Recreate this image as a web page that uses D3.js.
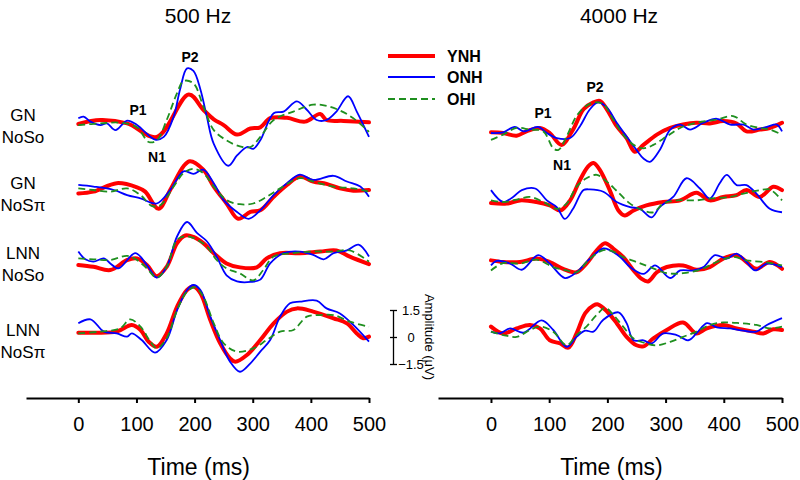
<!DOCTYPE html>
<html><head><meta charset="utf-8">
<script src="https://cdn.jsdelivr.net/npm/d3@7"></script>
<style>
body{margin:0;background:#fff}
svg{display:block}
text{font-family:"Liberation Sans",Arial,Helvetica,sans-serif;fill:#000}
</style>
</head><body>
<svg id="c" width="800" height="480"></svg>
<script>
// ---------- categories / ticks ----------
const panels = ["500 Hz", "4000 Hz"];
const conditions = [["GN","NoSo"],["GN","NoSπ"],["LNN","NoSo"],["LNN","NoSπ"]];
const groups = ["YNH","ONH","OHI"];
const timeTicks = [0,100,200,300,400,500];
const ampTicks = [-1.5,0,1.5];
const peakLabels = ["P1","P2","N1"];

// ---------- series: [time ms, amplitude µV] ----------
// 500 Hz, GN NoSo
const hz500_GN_NoSo_YNH = [[0,-0.11],[38,0.11],[84,-0.08],[135,-0.83],[190,1.53],[215,0.68],[233,0.15],[250,-0.17],[273,-0.70],[296,-0.36],[313,-0.30],[330,0.21],[359,0.23],[390,0.02],[416,0.45],[427,0.11],[456,0.06],[500,-0.02]];
const hz500_GN_NoSo_ONH = [[0,0.21],[9,0.30],[21,0.02],[38,-0.17],[49,-0.08],[64,-0.45],[84,0.08],[101,-0.17],[132,-0.98],[147,-0.83],[164,0.30],[175,1.81],[187,2.98],[198,2.84],[210,1.81],[221,0.30],[233,-1.21],[258,-2.43],[273,-1.86],[290,-1.39],[301,-1.49],[313,-1.02],[336,0.49],[353,0.58],[376,1.15],[393,0.68],[410,0.11],[427,0.11],[444,0.58],[464,1.43],[479,0.58],[500,-0.83]];
const hz500_GN_NoSo_OHI = [[0,-0.17],[38,-0.08],[72,-0.04],[101,-0.30],[121,-1.11],[135,-1.02],[152,0.11],[170,1.62],[181,2.28],[198,2.15],[215,0.87],[233,-0.45],[255,-1.02],[278,-1.36],[296,-1.39],[313,-0.83],[336,0.11],[370,0.58],[404,0.96],[427,0.90],[450,0.64],[473,0.21],[500,-0.55]];
// 500 Hz, GN NoSπ
const hz500_GN_NoSpi_YNH = [[0,-0.19],[26,-0.09],[66,0.38],[101,0.15],[115,-0.09],[138,-1.04],[158,0.00],[181,1.32],[192,1.60],[215,1.13],[233,0.19],[255,-0.75],[275,-1.60],[296,-1.22],[313,-1.13],[336,-0.38],[359,0.28],[381,0.75],[404,0.47],[427,0.34],[450,0.09],[473,-0.04],[500,0.00]];
const hz500_GN_NoSpi_ONH = [[0,0.28],[26,0.19],[61,0.00],[84,-0.28],[107,-0.47],[135,-0.75],[158,0.00],[181,1.04],[198,0.90],[215,1.13],[233,0.38],[250,-0.56],[273,-1.22],[293,-1.60],[313,-1.13],[336,-0.28],[359,0.38],[381,0.85],[404,0.56],[439,0.79],[462,0.47],[485,0.19],[500,-0.38]];
const hz500_GN_NoSpi_OHI = [[0,0.09],[26,0.00],[55,-0.09],[84,0.09],[107,-0.28],[127,-0.90],[141,-0.85],[164,0.19],[181,0.94],[198,1.17],[215,0.94],[233,0.19],[255,-0.56],[278,-0.79],[301,-0.75],[324,-0.38],[347,0.09],[381,0.66],[404,0.47],[439,0.19],[473,0.09],[500,-0.09]];
// 500 Hz, LNN NoSo
const hz500_LNN_NoSo_YNH = [[0,-0.28],[26,-0.38],[55,-0.56],[84,0.00],[101,0.09],[118,-0.28],[135,-0.90],[152,-0.38],[170,0.94],[184,1.36],[198,1.28],[215,0.94],[233,0.38],[255,-0.19],[278,-0.41],[307,-0.41],[324,0.09],[347,0.38],[381,0.38],[416,0.47],[444,0.53],[467,0.19],[500,-0.23]];
const hz500_LNN_NoSo_ONH = [[0,0.47],[12,0.04],[26,-0.09],[44,0.09],[55,-0.19],[69,-0.47],[98,0.38],[118,-0.28],[135,-0.98],[152,-0.38],[170,1.32],[187,2.11],[204,1.51],[221,1.04],[238,0.19],[255,-0.85],[273,-1.19],[296,-1.22],[313,-1.09],[330,-0.19],[353,0.38],[381,0.47],[404,0.28],[422,0.04],[439,0.38],[462,0.53],[482,0.85],[500,0.19]];
const hz500_LNN_NoSo_OHI = [[0,0.09],[26,0.04],[55,0.00],[84,0.23],[101,0.00],[118,-0.47],[135,-0.98],[152,-0.38],[170,1.13],[187,1.32],[204,1.13],[221,0.75],[238,0.00],[255,-0.47],[278,-0.75],[301,-1.13],[318,-0.56],[336,0.19],[370,0.38],[404,0.47],[439,0.47],[467,0.53],[500,-0.09]];
// 500 Hz, LNN NoSπ
const hz500_LNN_NoSpi_YNH = [[0,0.24],[26,0.24],[66,0.30],[92,0.67],[107,0.39],[121,-0.26],[135,-0.54],[152,0.20],[170,1.69],[187,2.61],[198,2.80],[210,2.43],[227,0.94],[244,-0.35],[261,-1.19],[270,-1.37],[290,-1.00],[313,-0.17],[336,0.76],[359,1.41],[376,1.59],[404,1.41],[439,1.04],[462,0.76],[479,0.20],[490,-0.07],[500,0.02]];
const hz500_LNN_NoSpi_ONH = [[0,0.76],[21,0.98],[44,0.30],[66,0.20],[84,0.02],[92,0.20],[109,-0.17],[132,-0.87],[152,-0.17],[170,1.50],[187,2.61],[198,2.89],[210,2.61],[227,1.13],[244,-0.17],[261,-1.37],[278,-1.93],[296,-1.46],[313,-0.81],[330,-0.17],[347,1.13],[364,1.87],[381,1.96],[410,2.02],[427,1.59],[450,1.31],[473,0.67],[500,-0.26]];
const hz500_LNN_NoSpi_OHI = [[0,0.20],[38,0.30],[72,0.48],[89,0.98],[107,0.57],[124,-0.26],[135,-0.63],[152,-0.07],[170,1.50],[187,2.52],[201,2.76],[215,2.24],[233,0.76],[250,-0.35],[273,-0.81],[301,-0.63],[324,-0.17],[347,0.30],[370,0.39],[393,1.13],[416,1.22],[439,1.22],[467,0.85],[500,0.57]];
// 4000 Hz, GN NoSo
const hz4000_GN_NoSo_YNH = [[0,0.04],[21,0.00],[44,-0.15],[61,0.09],[84,0.28],[101,0.00],[121,-0.66],[141,0.19],[159,1.32],[176,1.70],[187,1.79],[199,1.32],[216,0.38],[233,-0.28],[247,-1.04],[262,-0.66],[285,-0.09],[308,0.28],[330,0.47],[353,0.57],[376,0.53],[399,0.66],[422,0.53],[439,0.09],[462,0.19],[479,0.28],[500,0.57]];
const hz4000_GN_NoSo_ONH = [[0,0.00],[21,0.04],[41,0.34],[56,0.09],[81,0.34],[96,0.00],[113,-0.28],[136,-0.28],[153,0.38],[170,1.32],[184,1.70],[199,1.42],[216,0.57],[233,-0.19],[250,-0.94],[262,-1.42],[273,-1.60],[290,-0.94],[308,0.19],[325,0.47],[342,0.19],[365,0.57],[388,0.79],[411,0.47],[434,0.47],[451,0.19],[474,0.34],[491,0.47],[500,0.09]];
const hz4000_GN_NoSo_OHI = [[0,-0.38],[21,-0.09],[44,0.28],[67,0.19],[90,0.09],[107,-0.85],[116,-0.94],[130,-0.19],[147,0.94],[164,1.51],[179,1.70],[193,1.60],[210,0.75],[227,-0.09],[245,-0.66],[262,-0.85],[279,-0.66],[302,-0.19],[325,0.28],[353,0.57],[388,0.75],[416,0.94],[439,0.47],[462,0.28],[479,0.19],[500,-0.09]];
// 4000 Hz, GN NoSπ
const hz4000_GN_NoSpi_YNH = [[0,-0.06],[27,-0.09],[50,0.09],[78,0.00],[101,-0.19],[119,-0.47],[136,0.09],[153,1.23],[167,1.98],[176,2.17],[187,1.79],[204,0.66],[219,-0.47],[230,-0.75],[245,-0.47],[267,-0.19],[296,0.00],[325,0.09],[353,0.51],[376,0.09],[399,0.28],[422,0.38],[439,0.66],[462,0.28],[485,0.85],[500,0.66]];
const hz4000_GN_NoSpi_ONH = [[0,0.66],[21,0.00],[38,0.28],[53,0.66],[76,0.75],[96,0.09],[113,-0.28],[127,-0.94],[141,-0.38],[159,0.66],[170,0.70],[193,0.57],[216,0.00],[239,-0.28],[256,-0.38],[276,-0.85],[290,-0.28],[313,0.28],[336,1.32],[359,0.75],[376,0.19],[393,1.04],[405,1.51],[422,0.94],[439,0.94],[456,0.47],[479,-0.38],[500,-0.57]];
const hz4000_GN_NoSpi_OHI = [[0,0.09],[21,0.00],[44,0.13],[67,0.28],[90,0.00],[113,-0.38],[130,-0.09],[147,0.85],[164,1.32],[182,1.51],[199,1.13],[216,0.62],[239,-0.09],[262,-0.47],[279,-0.57],[296,-0.09],[319,0.09],[353,0.09],[376,0.19],[411,0.28],[434,0.47],[462,0.66],[479,0.70],[500,0.09]];
// 4000 Hz, LNN NoSo
const hz4000_LNN_NoSo_YNH = [[0,0.09],[21,0.00],[50,0.00],[78,0.19],[101,0.00],[124,-0.38],[147,-0.57],[164,-0.09],[182,0.66],[196,1.04],[210,0.75],[227,0.28],[245,-0.47],[259,-0.94],[270,-1.08],[285,-0.57],[302,-0.28],[330,-0.19],[353,-0.43],[376,-0.28],[399,0.19],[422,0.38],[439,0.00],[456,-0.38],[479,0.00],[500,-0.38]];
const hz4000_LNN_NoSo_ONH = [[0,-0.19],[10,0.06],[33,-0.09],[53,-0.43],[81,0.38],[101,-0.09],[127,-0.89],[147,-0.57],[170,0.19],[193,0.75],[204,0.66],[222,0.28],[239,-0.28],[262,-0.66],[282,-0.19],[308,-0.89],[325,-0.47],[348,-0.47],[365,-0.28],[385,0.38],[405,0.19],[422,0.47],[439,0.00],[454,-0.47],[474,-0.09],[500,-0.28]];
const hz4000_LNN_NoSo_OHI = [[0,-0.47],[21,-0.06],[50,-0.09],[78,0.13],[107,-0.28],[130,-0.47],[147,-0.57],[170,0.19],[193,0.66],[207,0.62],[227,0.28],[250,0.00],[273,-0.28],[302,-0.62],[330,-0.62],[359,-0.43],[388,0.00],[416,0.28],[439,0.09],[468,0.00],[500,-0.19]];
// 4000 Hz, LNN NoSπ
const hz4000_LNN_NoSpi_YNH = [[0,0.19],[21,-0.19],[44,0.09],[67,0.28],[84,0.09],[101,-0.57],[119,-0.75],[133,-0.98],[147,-0.19],[162,0.94],[176,1.36],[184,1.42],[199,1.04],[216,0.38],[233,-0.38],[250,-0.85],[262,-0.91],[279,-0.47],[302,0.00],[330,0.42],[353,-0.19],[371,0.09],[399,0.28],[422,0.09],[451,-0.09],[468,-0.19],[485,0.04],[500,0.00]];
const hz4000_LNN_NoSpi_ONH = [[0,-0.09],[15,-0.19],[33,0.09],[56,-0.15],[87,0.53],[107,0.00],[130,-0.94],[147,-0.38],[162,-0.04],[176,-0.09],[193,0.57],[219,0.98],[233,0.38],[245,-0.57],[262,-0.57],[276,-0.75],[296,-0.19],[319,-0.28],[339,-0.57],[353,-0.19],[371,0.38],[388,0.15],[411,0.09],[434,-0.04],[456,-0.09],[474,0.28],[500,0.66]];
const hz4000_LNN_NoSpi_OHI = [[0,-0.09],[21,-0.28],[44,-0.38],[67,0.00],[84,0.19],[107,-0.09],[130,-0.85],[147,-0.28],[164,0.19],[182,0.85],[196,1.23],[210,0.85],[227,0.19],[245,-0.47],[267,-0.75],[285,-0.85],[308,-0.66],[330,-0.38],[353,-0.09],[376,0.28],[399,0.42],[428,0.38],[456,0.28],[479,0.09],[500,0.19]];

// tables built from the arrays above: [row][group]
const data500 = [
  [hz500_GN_NoSo_YNH, hz500_GN_NoSo_ONH, hz500_GN_NoSo_OHI],
  [hz500_GN_NoSpi_YNH, hz500_GN_NoSpi_ONH, hz500_GN_NoSpi_OHI],
  [hz500_LNN_NoSo_YNH, hz500_LNN_NoSo_ONH, hz500_LNN_NoSo_OHI],
  [hz500_LNN_NoSpi_YNH, hz500_LNN_NoSpi_ONH, hz500_LNN_NoSpi_OHI]
];
const data4000 = [
  [hz4000_GN_NoSo_YNH, hz4000_GN_NoSo_ONH, hz4000_GN_NoSo_OHI],
  [hz4000_GN_NoSpi_YNH, hz4000_GN_NoSpi_ONH, hz4000_GN_NoSpi_OHI],
  [hz4000_LNN_NoSo_YNH, hz4000_LNN_NoSo_ONH, hz4000_LNN_NoSo_OHI],
  [hz4000_LNN_NoSpi_YNH, hz4000_LNN_NoSpi_ONH, hz4000_LNN_NoSpi_OHI]
];

// ---------- layout & style ----------
const svg = d3.select("#c");
const colors = ["#ff0000", "#0000ff", "#1f8f1f"];
const widths = [4, 1.8, 1.8];
const dashes = [null, null, "7,4"];
const axisY = 398;
const panelCfg = [
  {data: data500, xDomain: [-90, 500], xRange: [26, 369], bases: [122, 190, 260, 337], titleX: 198,
   peaks: [[138,110],[190,57],[157,157]]},
  {data: data4000, xDomain: [-91, 500], xRange: [438, 782], bases: [133, 202, 262, 330], titleX: 619,
   peaks: [[543,113],[595,87],[562,165]]}
];
const pxPerUV = 18;

panelCfg.forEach((p, pi) => {
  const x = d3.scaleLinear().domain(p.xDomain).range(p.xRange);

  // title
  svg.append("text").attr("x", p.titleX).attr("y", 23)
    .attr("text-anchor", "middle").style("font-size", "21px").text(panels[pi]);

  // rows
  p.bases.forEach((base, ri) => {
    const y = d3.scaleLinear().domain([-1.5, 1.5]).range([base + 1.5 * pxPerUV, base - 1.5 * pxPerUV]);
    p.yScales = p.yScales || [];
    p.yScales[ri] = y;
    const line = d3.line().x(d => x(d[0])).y(d => y(d[1])).curve(d3.curveCatmullRom.alpha(0.5));
    groups.forEach((g, gi) => {
      svg.append("path").datum(p.data[ri][gi])
        .attr("d", line)
        .attr("fill", "none")
        .attr("stroke", colors[gi])
        .attr("stroke-width", widths[gi])
        .attr("stroke-linejoin", "round")
        .attr("stroke-linecap", gi === 0 ? "round" : "butt")
        .attr("stroke-dasharray", dashes[gi]);
    });
  });

  // peak labels
  peakLabels.forEach((lab, k) => {
    svg.append("text").attr("x", p.peaks[k][0]).attr("y", p.peaks[k][1])
      .attr("text-anchor", "middle").attr("dy", "0.35em")
      .style("font-size", "14px").style("font-weight", "bold").text(lab);
  });

  // time axis
  const ax = svg.append("g").attr("transform", `translate(0,${axisY})`)
    .call(d3.axisBottom(x).tickValues(timeTicks).tickSize(5).tickSizeOuter(0).tickPadding(14));
  ax.select(".domain").attr("stroke", "#000").attr("stroke-width", 2.2);
  ax.selectAll(".tick line").attr("stroke", "#000").attr("stroke-width", 2);
  ax.selectAll(".tick text").style("font-size", "20px").attr("fill", "#000")
    .style("font-family", '"Liberation Sans",Arial,sans-serif');

  svg.append("text").attr("x", (x(0) + x(500)) / 2 - 25).attr("y", 475)
    .attr("text-anchor", "middle").style("font-size", "23px").text("Time (ms)");
});

// condition labels (left side)
conditions.forEach((c, ri) => {
  const base = panelCfg[0].bases[ri];
  const offs = [[-8], [14]];
  c.forEach((t, k) => {
    svg.append("text").attr("x", 23).attr("y", base + (k === 0 ? -7 : 15))
      .attr("text-anchor", "middle").attr("dy", "0.35em")
      .style("font-size", "17px").text(t);
  });
});

// legend
const legX = 388, legY = [56, 77, 99];
groups.forEach((g, gi) => {
  svg.append("line").attr("x1", legX).attr("x2", legX + 47)
    .attr("y1", legY[gi]).attr("y2", legY[gi])
    .attr("stroke", colors[gi]).attr("stroke-width", widths[gi])
    .attr("stroke-dasharray", dashes[gi]);
  svg.append("text").attr("x", legX + 59).attr("y", legY[gi]).attr("dy", "0.36em")
    .style("font-size", "16px").style("font-weight", "bold").text(g);
});

// amplitude scale bar (uses the last 500 Hz row's scale)
const yBar = panelCfg[0].yScales[3];
const bar = svg.append("g").attr("transform", "translate(393,0)")
  .call(d3.axisRight(yBar).tickValues(ampTicks).tickSize(3).tickSizeOuter(0)
    .tickFormat(d => d === 0 ? "0" : d3.format(".1f")(d)));
bar.select(".domain").attr("stroke", "#000").attr("stroke-width", 1.3);
bar.selectAll(".tick line").attr("x1", -3).attr("x2", 4).attr("stroke", "#000").attr("stroke-width", 1.3);
bar.selectAll(".tick text").attr("x", 18).attr("text-anchor", "middle")
  .style("font-size", "13px").attr("fill", "#000")
  .style("font-family", '"Liberation Sans",Arial,sans-serif');
svg.append("text").attr("transform", `translate(425,${yBar(0)}) rotate(90)`)
  .attr("text-anchor", "middle").style("font-size", "13px").text("Amplitude (μV)");
</script>
</body></html>
